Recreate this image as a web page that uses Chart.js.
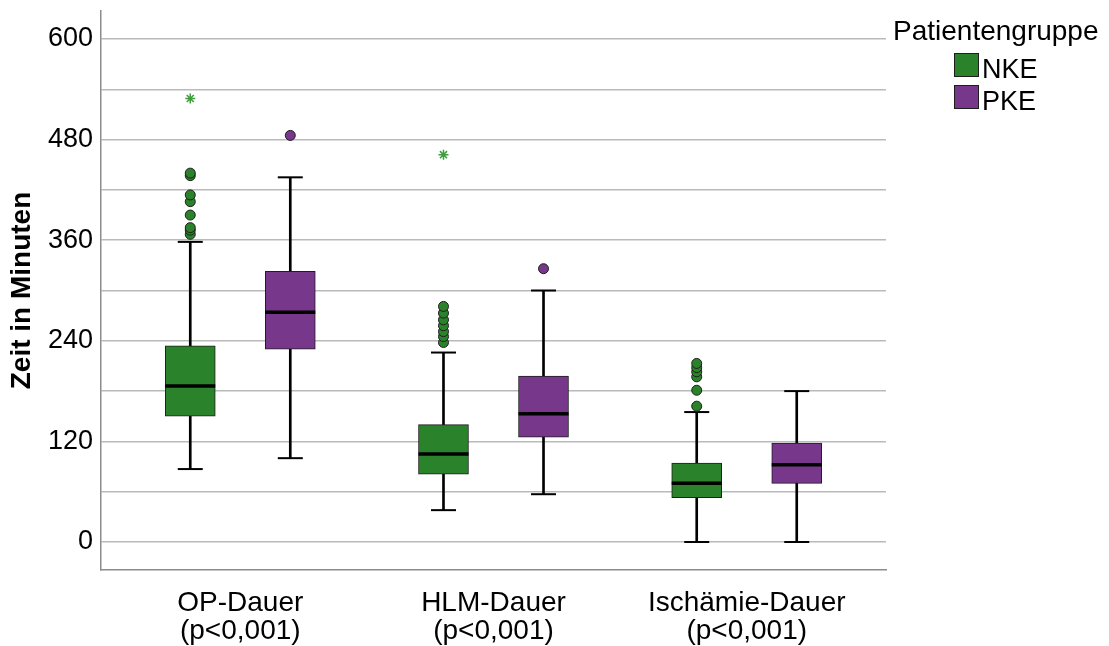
<!DOCTYPE html>
<html>
<head>
<meta charset="utf-8">
<script src="https://cdn.jsdelivr.net/npm/chart.js@4.4.0/dist/chart.umd.min.js"></script>
<style>
  html, body { margin: 0; padding: 0; background: #fff; }
  #wrap { width: 1109px; height: 646px; }
</style>
</head>
<body>
<div id="wrap"><canvas id="box-chart" width="1109" height="646"></canvas></div>
<script>
// x categories (two lines each)
let categories = [
    ['OP-Dauer', '(p<0,001)'],
    ['HLM-Dauer', '(p<0,001)'],
    ['Ischämie-Dauer', '(p<0,001)']
];
let groups = ['NKE', 'PKE'];
let legendTitle = 'Patientengruppe';
let yGridValues = [0, 60, 120, 180, 240, 300, 360, 420, 480, 540, 600];
let yLabelValues = [0, 120, 240, 360, 480, 600];

// NKE boxes
let nkeMin = [87, 38, 0];
let nkeQ1 = [150, 81, 53];
let nkeMedian = [186, 105, 70];
let nkeQ3 = [234, 140, 94];
let nkeMax = [358, 226, 155];
let nkeOutliers = [
    [367, 372, 375, 390, 406, 414, 437, 440],
    [238, 245, 251, 258, 265, 273, 281],
    [162, 181, 197, 203, 208, 213]
];
let nkeExtremes = [[529], [462], []];

// PKE boxes
let pkeMin = [100, 57, 0];
let pkeQ1 = [230, 125, 70];
let pkeMedian = [274, 153, 92];
let pkeQ3 = [323, 198, 118];
let pkeMax = [435, 300, 180];
let pkeOutliers = [[485], [326], []];
let pkeExtremes = [[], [], []];

let green = '#2a832a';
let purple = '#77378b';
let starGreen = '#3c9e3c';
let edge = '#1e1e1e';

Chart.defaults.font.family = '"Liberation Sans", Arial, sans-serif';
Chart.defaults.color = '#000';

function boxSets(min, q1, med, q3, max, outliers, extremes, color, shift) {
    let xs = categories.map((c, i) => i + shift);
    return [
        { // whisker stem
            type: 'bar', grouped: false, order: 6, barThickness: 2,
            backgroundColor: '#000',
            data: xs.map((x, i) => ({ x: x, y: [min[i], max[i]] }))
        },
        { // box
            type: 'bar', grouped: false, order: 5, barThickness: 50,
            backgroundColor: color, borderColor: edge, borderWidth: 1, borderSkipped: false,
            data: xs.map((x, i) => ({ x: x, y: [q1[i], q3[i]] }))
        },
        { // caps
            type: 'scatter', order: 3, pointStyle: 'line', radius: 12.5,
            borderColor: '#000', borderWidth: 2,
            data: xs.flatMap((x, i) => [{ x: x, y: min[i] }, { x: x, y: max[i] }])
        },
        { // median
            type: 'scatter', order: 3, pointStyle: 'line', radius: 25,
            borderColor: '#000', borderWidth: 3.5,
            data: xs.map((x, i) => ({ x: x, y: med[i] }))
        },
        { // outliers
            type: 'scatter', order: 1, pointStyle: 'circle', radius: 5,
            backgroundColor: color, borderColor: edge, borderWidth: 1,
            data: xs.flatMap((x, i) => outliers[i].map(v => ({ x: x, y: v })))
        },
        { // extremes
            type: 'scatter', order: 1, pointStyle: 'star', radius: 5,
            borderColor: starGreen, borderWidth: 1.5,
            data: xs.flatMap((x, i) => extremes[i].map(v => ({ x: x, y: v })))
        }
    ];
}

let sideLegend = {
    id: 'sideLegend',
    afterDraw(chart) {
        let ctx = chart.ctx;
        let colors = [green, purple];
        ctx.save();
        ctx.fillStyle = '#000';
        ctx.textBaseline = 'alphabetic';
        ctx.font = '28px "Liberation Sans", Arial, sans-serif';
        ctx.fillText(legendTitle, 893, 40);
        ctx.font = '27px "Liberation Sans", Arial, sans-serif';
        groups.forEach((g, i) => {
            let top = 53 + i * 32;
            ctx.fillStyle = colors[i];
            ctx.fillRect(954, top, 25, 24);
            ctx.strokeStyle = edge;
            ctx.lineWidth = 1;
            ctx.strokeRect(954.5, top + 0.5, 24, 23);
            ctx.fillStyle = '#000';
            ctx.fillText(g, 982, top + 25);
        });
        ctx.restore();
    }
};

function noEdgePadding(s) {
    s.paddingTop = 0;
    s.paddingBottom = 0;
    s.paddingLeft = 0;
    s.paddingRight = 0;
}

let ctx = document.getElementById('box-chart').getContext('2d');

let myChart = new Chart(ctx, {
    type: 'bar',
    data: {
        datasets: boxSets(nkeMin, nkeQ1, nkeMedian, nkeQ3, nkeMax, nkeOutliers, nkeExtremes, green, -0.1975)
            .concat(boxSets(pkeMin, pkeQ1, pkeMedian, pkeQ3, pkeMax, pkeOutliers, pkeExtremes, purple, 0.1975))
    },
    options: {
        responsive: false,
        animation: false,
        layout: { autoPadding: false, padding: { top: 11, right: 223, bottom: 0, left: 0 } },
        plugins: {
            legend: { display: false },
            tooltip: { enabled: false }
        },
        scales: {
            x: {
                type: 'linear', min: -0.55, max: 2.55, offset: false,
                afterBuildTicks: s => { s.ticks = categories.map((c, i) => ({ value: i })); },
                afterFit: s => { s.height = 76; noEdgePadding(s); },
                ticks: {
                    callback: v => categories[v],
                    font: { size: 28, lineHeight: 1.0 },
                    color: '#000', padding: 11, maxRotation: 0, autoSkip: false
                },
                grid: { display: false },
                border: { display: true, color: '#8c8c8c', width: 1.5 }
            },
            y: {
                min: -33.4, max: 633.4,
                afterBuildTicks: s => { s.ticks = yGridValues.map(v => ({ value: v })); },
                afterFit: s => { s.width = 101; noEdgePadding(s); },
                ticks: {
                    callback: v => yLabelValues.includes(v) ? v : '',
                    font: { size: 27 }, color: '#000', padding: 8
                },
                grid: { color: '#bababa', lineWidth: 1.5, drawTicks: false },
                border: { color: '#8c8c8c', width: 1.5 },
                title: {
                    display: true, text: 'Zeit in Minuten', color: '#000',
                    font: { size: 28, weight: 'bold' }, padding: { top: 5, bottom: 0 }
                }
            }
        }
    },
    plugins: [sideLegend]
});
</script>
</body>
</html>
